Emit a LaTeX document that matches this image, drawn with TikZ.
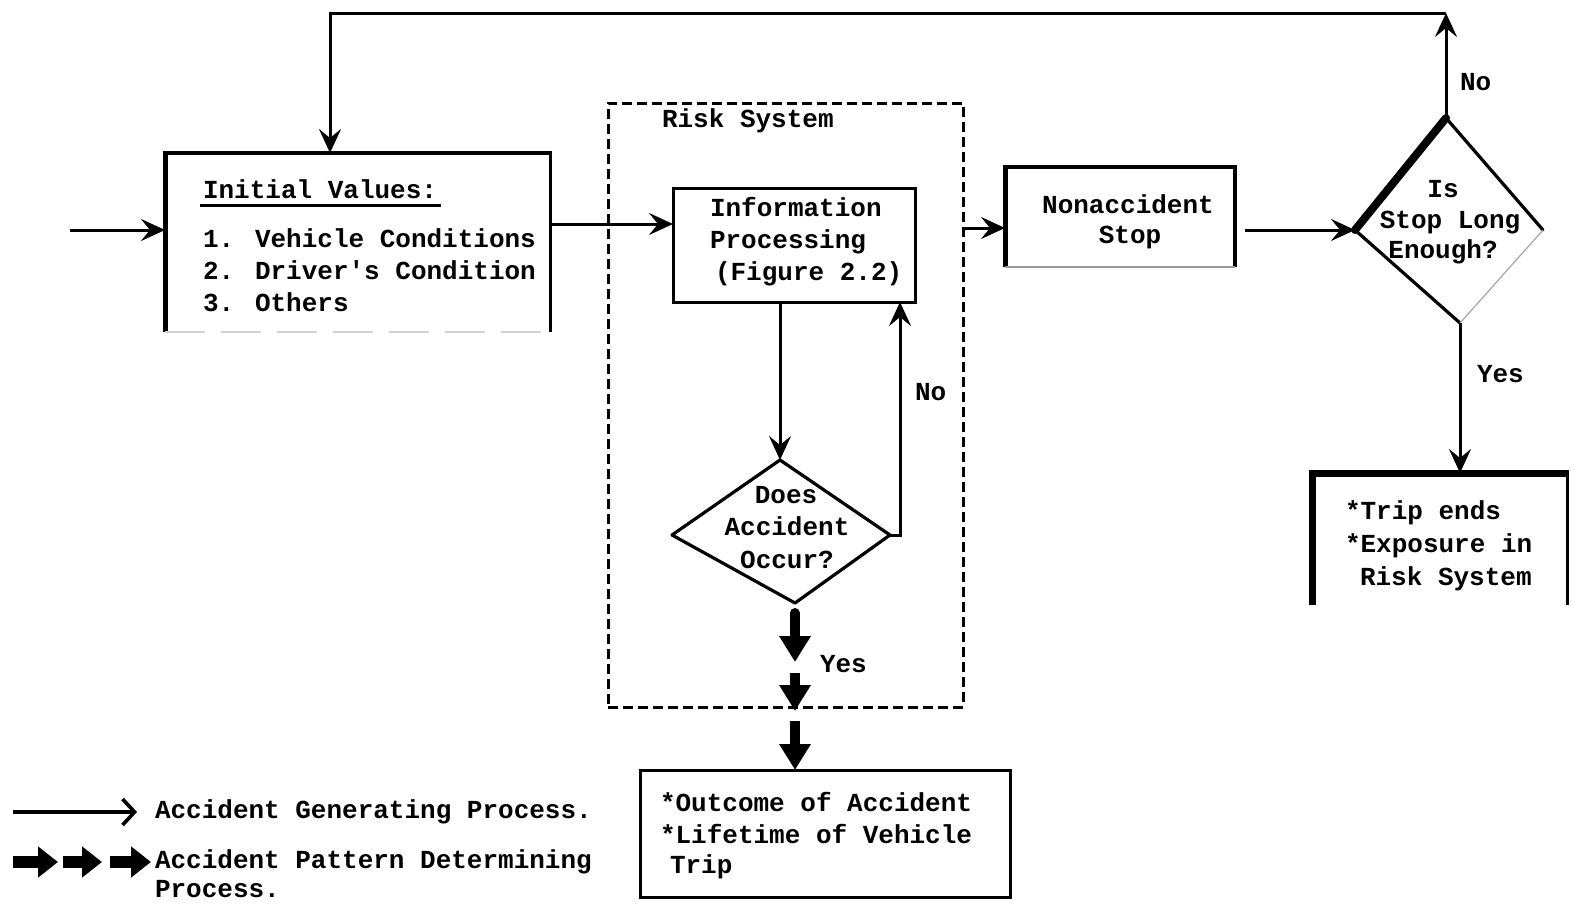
\documentclass[tikz,border=0pt]{standalone}
\usepackage{fontspec}
\newfontfamily\tw{Liberation Mono}
\usetikzlibrary{arrows.meta}
\tikzset{
  lbl/.style={font=\tw\bfseries\fontsize{13}{16}\selectfont, inner sep=0pt, outer sep=0pt, anchor=base west},
  clbl/.style={lbl, anchor=base},
  frame/.style={inner sep=0pt, outer sep=0pt},
  arr/.style={line width=1.5pt, -{Stealth[length=12pt,width=11pt,inset=4.5pt]}},
  legarr/.style={line width=1.8pt, -{Straight Barb[length=6pt,width=13pt,line width=1.8pt]}},
  fat/.style={line width=5pt, -{Triangle[length=13pt,width=15pt]}},
  fatleg/.style={line width=6pt, -{Triangle[length=10pt,width=15pt]}},
  edge/.style={line width=1.6pt, line join=round, line cap=round},
}
\begin{document}
\begin{tikzpicture}[x=0.5pt,y=-0.5pt]
\useasboundingbox (0,0) rectangle (1575,906);
\coordinate (yA) at (0,224);
\coordinate (yB) at (0,228);

% ---------- boxes ----------
\node[frame, minimum width=192.5pt, minimum height=89.5pt] (init) at (357.5,242.5) {};
\draw[line width=2.5pt] (init.south west) -- ([yshift=1pt]init.north west);
\draw[line width=2pt] ([xshift=-1.25pt]init.north west) -- ([xshift=0.75pt]init.north east);
\draw[line width=1.5pt] (init.north east) -- (init.south east);
\draw[black!18, line width=0.8pt, dash pattern=on 20pt off 8pt] (init.south west) -- (init.south east);

\node[frame, draw, line width=1.5pt, minimum width=121pt, minimum height=57pt] (info) at (794,245) {};

\node[frame, draw, line width=1.5pt, dash pattern=on 5pt off 2.5pt, minimum width=177.5pt, minimum height=302pt] (risk) at (785.5,405) {};

\node[frame, minimum width=115pt, minimum height=50pt] (nonacc) at (1120,217) {};
\draw[line width=2.5pt] (nonacc.south west) -- ([yshift=1pt]nonacc.north west);
\draw[line width=2pt] ([xshift=-1.25pt]nonacc.north west) -- ([xshift=1pt]nonacc.north east);
\draw[line width=2pt] (nonacc.north east) -- (nonacc.south east);
\draw[black!40, line width=1pt] (nonacc.south west) -- (nonacc.south east);

\node[frame, minimum width=127.5pt, minimum height=66pt] (trip) at (1439.5,539) {};
\draw[line width=3.5pt] (trip.south west) -- ([yshift=1.75pt]trip.north west);
\draw[line width=3.5pt] ([xshift=-1.75pt]trip.north west) -- ([xshift=0.75pt]trip.north east);
\draw[line width=1.5pt] (trip.north east) -- (trip.south east);

\node[frame, draw, line width=1.5pt, minimum width=185pt, minimum height=63.5pt] (outc) at (825,833.5) {};

% ---------- diamonds ----------
\coordinate (d1t) at (780,460);
\coordinate (d1l) at (672,535);
\coordinate (d1b) at (795,603);
\coordinate (d1r) at (890,535);
\draw[edge] (d1t) -- (d1r) -- (d1b) -- (d1l) -- cycle;

\coordinate (d2t) at (1446,118);
\coordinate (d2l) at (1355,230);
\coordinate (d2b) at (1460,323);
\coordinate (d2r) at (1543,230);
\draw[line width=4pt, line cap=round] (d2t) -- (d2l);
\draw[edge] (d2t) -- (d2r);
\draw[edge] (d2l) -- (d2b);
\draw[black!35, line width=0.6pt] (d2b) -- (d2r);

% ---------- texts ----------
\node[lbl] (iv0) at (203,198) {Initial Values:};
\draw[line width=1.5pt] ([yshift=-3.5pt,xshift=-1.5pt]iv0.base west) -- ([yshift=-3.5pt,xshift=2pt]iv0.base east);
\node[lbl] (iv1) at (203,247) {1. Vehicle Conditions};
\node[lbl] (iv2) at (203,279) {2. Driver's Condition};
\node[lbl] (iv3) at (203,311) {3. Others};

\node[lbl] (rs) at (662,127) {Risk System};

\node[lbl] (ip1) at (710,216) {Information};
\node[lbl] (ip2) at (710,248) {Processing};
\node[lbl] (ip3) at (715,280) {(Figure 2.2)};

\node[clbl] (da1) at (786,503) {Does};
\node[clbl] (da2) at (787,535) {Accident};
\node[clbl] (da3) at (787,568) {Occur?};

\node[clbl] (ns1) at (1128,213) {Nonaccident};
\node[clbl] (ns2) at (1130,243) {Stop};

\node[clbl] (sl1) at (1443,197) {Is};
\node[clbl] (sl2) at (1450,228) {Stop Long};
\node[clbl] (sl3) at (1443,258) {Enough?};

\node[lbl] (te1) at (1345,519) {*Trip ends};
\node[lbl] (te2) at (1345,552) {*Exposure in};
\node[lbl] (te3) at (1360,585) {Risk System};

\node[lbl] (oa1) at (660,811) {*Outcome of Accident};
\node[lbl] (oa2) at (660,843) {*Lifetime of Vehicle};
\node[lbl] (oa3) at (670,873) {Trip};

\node[lbl] (no1) at (1460,90) {No};
\node[lbl] (ye1) at (1477,382) {Yes};
\node[lbl] (no2) at (915,400) {No};
\node[lbl] (ye2) at (820,672) {Yes};

\node[lbl] (lg1) at (155,818) {Accident Generating Process.};
\node[lbl] (lg2) at (155,868) {Accident Pattern Determining};
\node[lbl] (lg3) at (155,897) {Process.};

% ---------- connectors ----------
\coordinate (in0) at (70,230);
\draw[arr] (in0) -- (in0 -| init.west);
\draw[arr] (init.east |- yA) -- (info.west |- yA);
\draw[arr] (info.south -| d1t) -- (d1t);
\coordinate (nl) at (900,535);
\draw[arr] (d1r) -- (nl) -- (nl |- info.south);

\coordinate (ta1s) at (795,613);
\coordinate (ta1e) at (795,662);
\coordinate (ta2s) at (795,673);
\coordinate (ta2e) at (795,711);
\coordinate (ta3s) at (795,721);
\draw[fat, line cap=round] (ta1s) -- (ta1e);
\draw[fat] (ta2s) -- (ta2e);
\draw[fat] (ta3s) -- (ta3s |- outc.north);

\draw[arr] (risk.east |- yB) -- (nonacc.west |- yB);
\draw[arr] ([xshift=5pt]nonacc.east |- d2l) -- (d2l);

\coordinate (c1) at (1446,13);
\coordinate (c2) at (330,13);
\draw[arr] (d2t) -- (c1);
\draw[arr, line join=miter] (c1) -- (c2) -- (c2 |- init.north);
\draw[arr] (d2b) -- (d2b |- trip.north);

% ---------- legend ----------
\coordinate (l1s) at (13,812);
\coordinate (l1e) at (137,812);
\draw[legarr] (l1s) -- (l1e);
\coordinate (f1s) at (13,862);
\coordinate (f1e) at (58,862);
\coordinate (f2s) at (63,862);
\coordinate (f2e) at (102,862);
\coordinate (f3s) at (110,862);
\coordinate (f3e) at (151,862);
\draw[fatleg] (f1s) -- (f1e);
\draw[fatleg] (f2s) -- (f2e);
\draw[fatleg] (f3s) -- (f3e);
\end{tikzpicture}
\end{document}
